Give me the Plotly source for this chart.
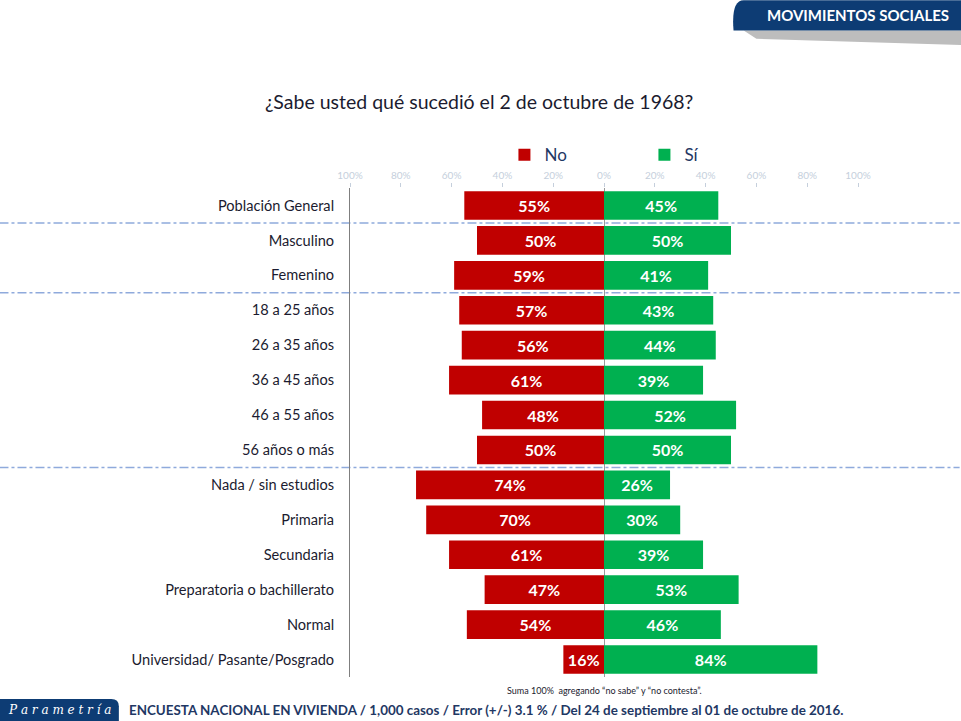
import plotly.graph_objects as go

# data
categorias = ["Población General", "Masculino", "Femenino", "18 a 25 años",
              "26 a 35 años", "36 a 45 años", "46 a 55 años", "56 años o más",
              "Nada / sin estudios", "Primaria", "Secundaria",
              "Preparatoria o bachillerato", "Normal",
              "Universidad/ Pasante/Posgrado"]
no = [55, 50, 59, 57, 56, 61, 48, 50, 74, 70, 61, 47, 54, 16]
si = [45, 50, 41, 43, 44, 39, 52, 50, 26, 30, 39, 53, 46, 84]
tick_vals = [-100, -80, -60, -40, -20, 0, 20, 40, 60, 80, 100]
tick_text = ["100%", "80%", "60%", "40%", "20%", "0%", "20%", "40%", "60%", "80%", "100%"]

ROJO = "#C00000"
VERDE = "#00B050"
AZUL = "#0D3C74"
FONT = "Lato"

fig = go.Figure()
fig.add_trace(go.Bar(
    y=categorias, x=[-v for v in no], name="No", orientation="h",
    marker_color=ROJO, marker_line_width=0,
    text=[f"{v}%" for v in no], textposition="inside", insidetextanchor="middle",
    textfont=dict(family=FONT, size=16, color="white", weight="bold"),
    hovertemplate="%{y}: %{text}<extra>No</extra>",
))
fig.add_trace(go.Bar(
    y=categorias, x=si, name="Sí", orientation="h",
    marker_color=VERDE, marker_line_width=0,
    text=[f"{v}%" for v in si], textposition="inside", insidetextanchor="middle",
    textfont=dict(family=FONT, size=16, color="white", weight="bold"),
    hovertemplate="%{y}: %{text}<extra>Sí</extra>",
))

fig.update_layout(
    width=961, height=721,
    margin=dict(l=350, r=103, t=188, b=44),
    barmode="relative", bargap=0.18,
    paper_bgcolor="white", plot_bgcolor="rgba(0,0,0,0)",
    font=dict(family=FONT, color="#1b1b2f"),
    uniformtext=dict(mode="show", minsize=10),
    legend=dict(orientation="h", x=0.304, y=1.067, xanchor="left", yanchor="middle",
                font=dict(size=17, color="#1F3864"), entrywidth=95,
                itemwidth=30, bgcolor="rgba(0,0,0,0)", traceorder="normal"),
    showlegend=True,
)

fig.update_xaxes(
    range=[-100, 100], side="top", tickmode="array",
    tickvals=tick_vals, ticktext=tick_text,
    tickfont=dict(size=10, color="#c5cfdc"), ticks="outside", ticklen=4,
    tickcolor="#c5cfdc", showgrid=False, zeroline=True,
    zerolinecolor="#9a9a9a", zerolinewidth=1, showline=False, fixedrange=True,
)
fig.update_yaxes(
    autorange="reversed", showgrid=False, showline=True, linecolor="#7f7f7f",
    linewidth=1, ticks="", ticklabelstandoff=12,
    tickfont=dict(size=14.6, color="#1b1b2f"), fixedrange=True,
)

# group separators (dash-dot)
for yv in [0.5, 2.5, 7.5]:
    fig.add_shape(type="line", xref="paper", yref="y", x0=-0.69, x1=1.2,
                  y0=yv, y1=yv, line=dict(color="#8FAADC", width=1.5, dash="dashdot"),
                  layer="below")

# header banner (paper top of figure is y = 1.384)
fig.add_shape(type="path", xref="paper", yref="paper",
              path="M 0.775 1.322 L 1.21 1.322 L 1.21 1.292 L 0.80 1.305 Z",
              fillcolor="#bdbdbd", line_width=0, layer="below")
fig.add_shape(type="path", xref="paper", yref="paper",
              path="M 0.755 1.322 Q 0.75 1.384 0.775 1.384 L 1.21 1.384 L 1.21 1.322 Z",
              fillcolor=AZUL, line_width=0)
fig.add_annotation(text="<b>MOVIMIENTOS SOCIALES</b>", xref="paper", yref="paper",
                   x=1.183, y=1.353, xanchor="right", yanchor="middle", showarrow=False,
                   font=dict(family=FONT, size=15, color="white"))

# title
fig.add_annotation(text="¿Sabe usted qué sucedió el 2 de octubre de 1968?",
                   xref="paper", yref="paper", x=0.253, y=1.177,
                   xanchor="center", yanchor="middle", showarrow=False,
                   font=dict(family=FONT, size=19.5, color="#1b1b2f"))

# note
fig.add_annotation(text="Suma 100%  agregando “no sabe” y “no contesta”.",
                   xref="paper", yref="paper", x=0.305, y=-0.028,
                   xanchor="left", yanchor="middle", showarrow=False,
                   font=dict(family=FONT, size=9, color="#1b1b2f"))

# footer logo and source
fig.add_shape(type="path", xref="paper", yref="paper",
              path="M -0.69 -0.045 L -0.47 -0.045 Q -0.455 -0.045 -0.455 -0.06 L -0.455 -0.091 L -0.69 -0.091 Z",
              fillcolor=AZUL, line_width=0)
fig.add_annotation(text="<i>P a r a m e t r í a</i>", xref="paper", yref="paper",
                   x=-0.572, y=-0.068, xanchor="center", yanchor="middle", showarrow=False,
                   font=dict(family="DejaVu Serif", size=12, color="white"))
fig.add_annotation(
    text="<b>ENCUESTA NACIONAL EN VIVIENDA / 1,000 casos / Error (+/-) 3.1 % / Del 24 de septiembre al 01 de octubre de 2016.</b>",
    xref="paper", yref="paper", x=-0.438, y=-0.068, xanchor="left", yanchor="middle",
    showarrow=False, font=dict(family=FONT, size=13.4, color="#1F3864"))

fig.write_html("out.html", config={"displayModeBar": False},
               post_script="document.body.style.margin='0';document.body.style.overflow='hidden';")
